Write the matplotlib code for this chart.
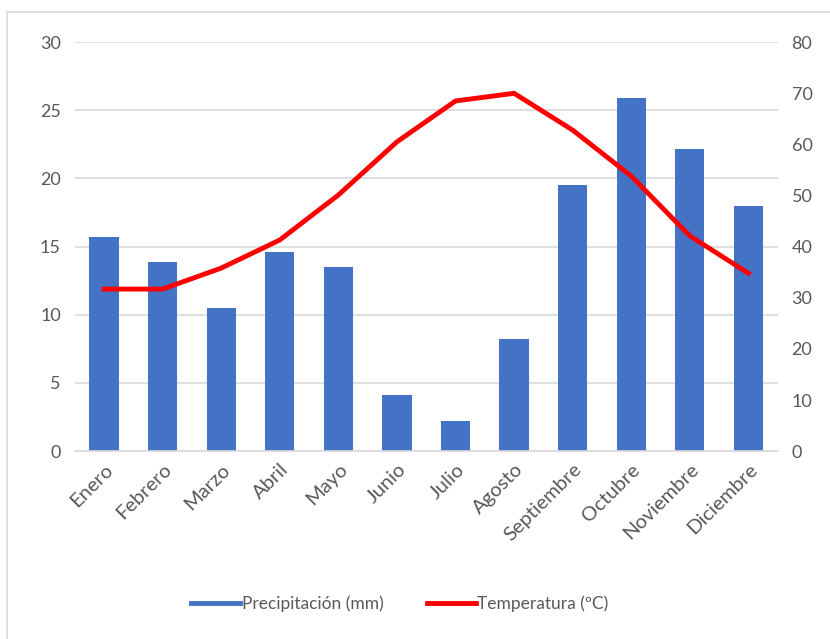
import matplotlib.pyplot as plt
from matplotlib.patches import Rectangle
from matplotlib.lines import Line2D

meses = ["Enero", "Febrero", "Marzo", "Abril", "Mayo", "Junio", "Julio",
         "Agosto", "Septiembre", "Octubre", "Noviembre", "Diciembre"]
precipitacion = [15.7, 13.9, 10.5, 14.6, 13.5, 4.1, 2.2, 8.2, 19.5, 25.9, 22.2, 18.0]
temperatura = [31.7, 31.7, 35.8, 41.3, 50.1, 60.5, 68.5, 70.0, 62.8, 53.8, 42.1, 34.8]

plt.rcParams['font.family'] = ['Lato', 'DejaVu Sans']
gris = "#595959"

fig = plt.figure(figsize=(8.3, 6.39), dpi=100)
# marco del grafico
fig.patches.append(Rectangle((7/830, -0.1), 1.2, 1 - 12/639 + 0.1,
                             transform=fig.transFigure, fill=False,
                             edgecolor="#d9d9d9", linewidth=1.2))

ax = fig.add_axes([0.090, 0.294, 0.847, 0.640])
x = range(len(meses))
ax.bar(x, precipitacion, width=0.5, color="#4472c4", zorder=2)
ax.set_ylim(0, 30)
ax.set_yticks(range(0, 31, 5))
ax.set_xlim(-0.5, len(meses) - 0.5)
ax.grid(axis="y", color="#d9d9d9", linewidth=1.2, zorder=0)
ax.set_axisbelow(True)
for s in ["top", "right", "left"]:
    ax.spines[s].set_visible(False)
ax.spines["bottom"].set_color("#d9d9d9")
ax.spines["bottom"].set_linewidth(1.2)
ax.tick_params(axis="both", length=0, colors=gris, labelsize=13, pad=10)
ax.set_xticks(list(x))
ax.set_xticklabels(meses, rotation=45, ha="right", rotation_mode="anchor",
                   fontsize=14.5)
ax.tick_params(axis="x", pad=7)

ax2 = ax.twinx()
ax2.plot(x, temperatura, color="#ff0000", linewidth=3.5, zorder=3)
ax2.set_ylim(0, 80)
ax2.set_yticks(range(0, 81, 10))
for s in ax2.spines.values():
    s.set_visible(False)
ax2.tick_params(axis="y", length=0, colors=gris, labelsize=13, pad=10)

handles = [Line2D([], [], color="#4472c4", linewidth=3.5),
           Line2D([], [], color="#ff0000", linewidth=3.5)]
fig.legend(handles, ["Precipitación (mm)", "Temperatura (ºC)"],
           loc="center", bbox_to_anchor=(400/830, 1 - 604/639), ncol=2,
           frameon=False, fontsize=12.5, labelcolor=gris, handlelength=2.8,
           handletextpad=0.1, columnspacing=2.5)

fig.savefig("out.png", dpi=100, facecolor="white")
